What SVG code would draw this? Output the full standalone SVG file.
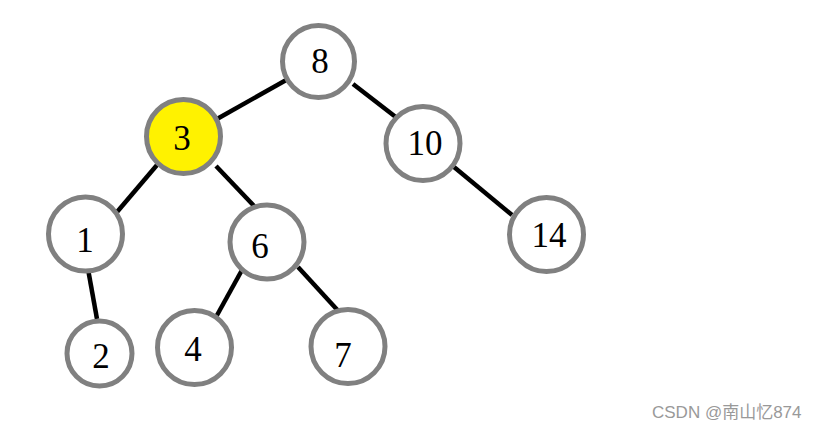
<svg xmlns="http://www.w3.org/2000/svg" width="818" height="430" viewBox="0 0 818 430">
<style>
.n{fill:#fff;stroke:#808080;stroke-width:5}
.y{fill:#fff200}
.t{font-family:"Liberation Serif","DejaVu Serif",serif;font-size:35px;fill:#000;text-anchor:middle}
.e{stroke:#000;stroke-width:4.5;fill:none;stroke-linecap:butt}
.w{font-family:"Liberation Sans","Noto Sans CJK SC",sans-serif;font-size:17px;fill:#999}
</style>
<rect width="818" height="430" fill="#fff"/>
<g id="edges">
<line class="e" x1="288" y1="79" x2="217" y2="119"/>
<line class="e" x1="353" y1="84" x2="397" y2="118"/>
<line class="e" x1="157" y1="165" x2="117" y2="212"/>
<line class="e" x1="216" y1="166" x2="255" y2="207"/>
<line class="e" x1="454" y1="167" x2="512" y2="215"/>
<line class="e" x1="88" y1="269" x2="97" y2="319"/>
<line class="e" x1="242" y1="270" x2="216" y2="317"/>
<line class="e" x1="298" y1="267" x2="342" y2="315"/>
</g>
<g id="n8"><circle class="n" cx="318.5" cy="61.5" r="36"/><text class="t" x="320" y="73">8</text></g>
<g id="n3"><circle class="n y" cx="183.5" cy="136.5" r="37"/><text class="t" x="182" y="150">3</text></g>
<g id="n10"><circle class="n" cx="423" cy="143.5" r="37"/><text class="t" x="425" y="155">10</text></g>
<g id="n1"><circle class="n" cx="85.5" cy="234" r="37"/><text class="t" x="85" y="252">1</text></g>
<g id="n6"><circle class="n" cx="267" cy="242" r="37"/><text class="t" x="260" y="258">6</text></g>
<g id="n14"><circle class="n" cx="546.5" cy="234.5" r="37"/><text class="t" x="549" y="247">14</text></g>
<g id="n2"><circle class="n" cx="99.5" cy="353.5" r="32.5"/><text class="t" x="101" y="368">2</text></g>
<g id="n4"><circle class="n" cx="194.5" cy="347.5" r="37"/><text class="t" x="193" y="361">4</text></g>
<g id="n7"><circle class="n" cx="348" cy="346.5" r="37"/><text class="t" x="343" y="367">7</text></g>
<text class="w" x="652" y="418">CSDN @南山忆874</text>
</svg>
